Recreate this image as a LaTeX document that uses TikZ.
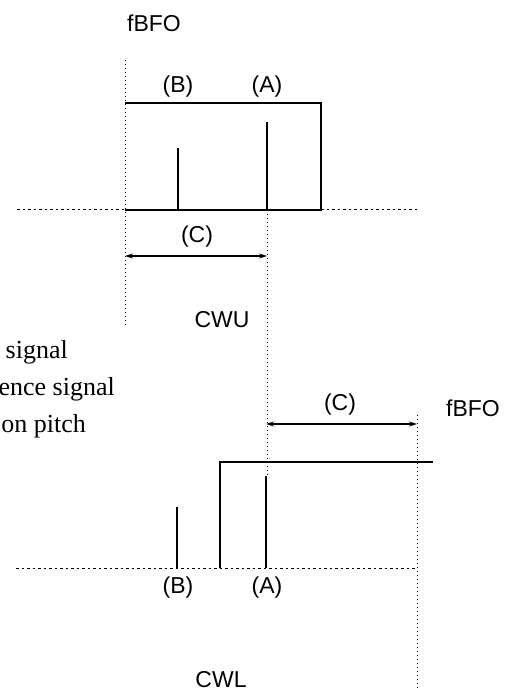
\documentclass[tikz,border=0pt]{standalone}
\usepackage{fontspec}
\setmainfont{Liberation Serif}
\newfontfamily\lsans{Liberation Sans}
\usetikzlibrary{arrows.meta}
\begin{document}
\begin{tikzpicture}[x=1pt,y=-1pt,
  lbl/.style={font=\lsans\fontsize{23}{26}\selectfont, inner sep=0pt},
  txt/.style={font=\fontsize{26}{30}\selectfont, inner sep=0pt, anchor=east},
  solidln/.style={line width=1.2pt},
  dotln/.style={line width=1pt, dash pattern=on 1pt off 3pt},
  dashln/.style={line width=1pt, dash pattern=on 2.5pt off 3pt},
  dimarrow/.style={line width=1.1pt, {Stealth[length=8pt,width=5pt]}-{Stealth[length=8pt,width=5pt]}}]
\useasboundingbox (0,0) rectangle (513,692);
% ---- top (CWU) ----
\node[lbl] (fbfoU) at (154,23) {fBFO};
\node[lbl] (bU) at (178,87) {(B)};
\node[lbl] (aU) at (267,87) {(A)};
\node[lbl] (cU) at (197,237) {(C)};
\node[lbl] (cwu) at (222,320) {CWU};
\coordinate (fvT) at (125,60);
\coordinate (fvB) at (125,325);
\coordinate (pTL) at (125,103);
\coordinate (pTR) at (321,103);
\coordinate (pBR) at (321,210);
\coordinate (pBL) at (125,210);
\coordinate (blL) at (17,210);
\coordinate (blR) at (417,210);
\coordinate (sBt) at (178,148);
\coordinate (sBb) at (178,210);
\coordinate (sAt) at (267,122);
\coordinate (sAb) at (267,210);
\coordinate (arL) at (125,256);
\coordinate (arR) at (267,256);
\coordinate (avB) at (267,476);
\draw[dotln] (fvT) -- (fvB);
\draw[dashln] (blL) -- (pBL);
\draw[dashln] (pBR) -- (blR);
\draw[solidln] (pBL) -- (pBR) -- (pTR) -- (pTL);
\draw[solidln] (sBt) -- (sBb);
\draw[solidln] (sAt) -- (sAb);
\draw[dimarrow] (arL) -- (arR);
\draw[dotln] (sAb) -- (avB);
% ---- legend text (cut off at left in the reference) ----
\node[txt] (t1) at (68,352) {signal};
\node[txt] (t2) at (115,389) {ence signal};
\node[txt] (t3) at (86,426) {on pitch};
% ---- bottom (CWL) ----
\node[lbl] (cL) at (340,405) {(C)};
\node[lbl] (fbfoL) at (473,408) {fBFO};
\node[lbl] (bL) at (178,588) {(B)};
\node[lbl] (aL) at (267,588) {(A)};
\node[lbl] (cwl) at (221,680) {CWL};
\coordinate (ar2L) at (266,424);
\coordinate (ar2R) at (417,424);
\coordinate (fv2T) at (417,415);
\coordinate (fv2B) at (417,688);
\coordinate (qBL) at (220,568);
\coordinate (qTL) at (220,462);
\coordinate (qTR) at (433,462);
\coordinate (bl2L) at (16,568);
\coordinate (bl2R) at (417,568);
\coordinate (s2Bt) at (177,507);
\coordinate (s2Bb) at (177,568);
\coordinate (s2At) at (266,476);
\coordinate (s2Ab) at (266,568);
\draw[dimarrow] (ar2L) -- (ar2R);
\draw[dotln] (fv2T) -- (fv2B);
\draw[dashln] (bl2L) -- (bl2R);
\draw[solidln] (qBL) -- (qTL) -- (qTR);
\draw[solidln] (s2Bt) -- (s2Bb);
\draw[solidln] (s2At) -- (s2Ab);
\end{tikzpicture}
\end{document}
